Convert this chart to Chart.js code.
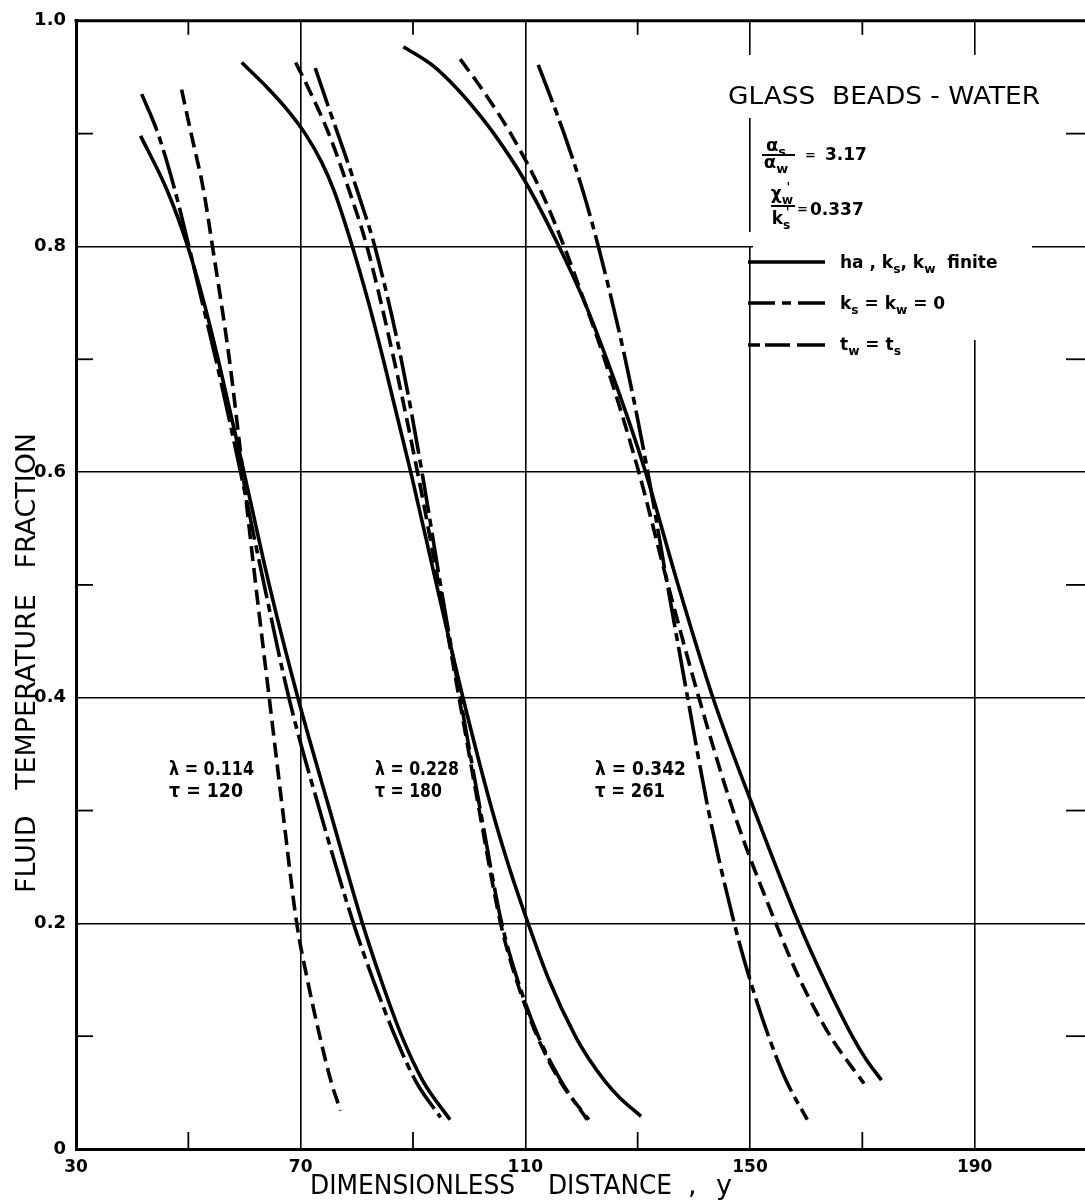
<!DOCTYPE html>
<html><head><meta charset="utf-8">
<script src="https://cdn.jsdelivr.net/npm/chart.js@4.4.1/dist/chart.umd.min.js"></script>
<style>
html,body{margin:0;padding:0;background:#fff;overflow:hidden;width:1085px;height:1203px}
#wrap{position:absolute;left:0;top:0;width:1095px;height:1203px}
</style>
</head><body><div id="wrap"><canvas id="c" width="1095" height="1203"></canvas></div>
<script>
// ---- axis ticks ----
const xMajor = [30, 70, 110, 150, 190];
const xTickLabels = ['30', '70', '110', '150', '190'];
const xAllTicks = [30, 50, 70, 90, 110, 130, 150, 170, 190, 210];
const yMajor = [0, 0.2, 0.4, 0.6, 0.8, 1.0];
const yTickLabels = ['0', '0.2', '0.4', '0.6', '0.8', '1.0'];

// ---- λ = 0.114, τ = 120 ----
const aFiniteX = [41.5, 46.2, 49.9, 52.8, 55.3, 59.9, 64.4, 69.5, 75.2, 81.0, 84.3, 88.0, 91.8, 96.6];
const aFiniteY = [0.898, 0.85, 0.80, 0.75, 0.70, 0.60, 0.50, 0.40, 0.30, 0.20, 0.15, 0.10, 0.06, 0.026];
const aNoCondX = [41.7, 44.6, 47.6, 50.1, 52.5, 54.9, 59.3, 63.5, 67.9, 73.4, 79.4, 82.9, 86.8, 90.5, 94.9];
const aNoCondY = [0.935, 0.90, 0.85, 0.80, 0.75, 0.70, 0.60, 0.50, 0.40, 0.30, 0.20, 0.15, 0.10, 0.06, 0.028];
const aEquilX = [48.8, 50.5, 52.7, 54.3, 57.3, 59.7, 62.0, 64.4, 66.8, 69.3, 71.2, 73.4, 75.4, 77.1];
const aEquilY = [0.939, 0.90, 0.85, 0.80, 0.70, 0.60, 0.50, 0.40, 0.30, 0.20, 0.15, 0.10, 0.06, 0.034];

// ---- λ = 0.228, τ = 180 ----
const bFiniteX = [59.5, 64.2, 67.8, 70.8, 73.7, 75.9, 79.2, 82.1, 84.7, 89.6, 94.2, 98.9, 104.1, 107.1, 110.5, 114.2, 118.9, 121.3, 124.2, 126.9, 130.6];
const bFiniteY = [0.963, 0.94, 0.92, 0.90, 0.875, 0.85, 0.80, 0.75, 0.70, 0.60, 0.50, 0.40, 0.30, 0.25, 0.20, 0.15, 0.10, 0.08, 0.06, 0.045, 0.029];
const bNoCondX = [72.6, 75.2, 78.0, 80.7, 83.2, 87.9, 91.6, 94.9, 98.4, 102.0, 105.8, 108.6, 112.3, 116.4, 121.0];
const bNoCondY = [0.958, 0.92, 0.88, 0.84, 0.80, 0.70, 0.60, 0.50, 0.40, 0.30, 0.20, 0.15, 0.10, 0.06, 0.026];
const bEquilX = [69.1, 71.4, 75.0, 78.6, 81.8, 86.6, 90.8, 94.6, 98.2, 101.8, 105.6, 108.4, 112.1, 116.2, 121.3];
const bEquilY = [0.963, 0.94, 0.90, 0.85, 0.80, 0.70, 0.60, 0.50, 0.40, 0.30, 0.20, 0.15, 0.10, 0.06, 0.026];

// ---- λ = 0.342, τ = 261 ----
const cFiniteX = [88.3, 93.6, 97.8, 101.3, 104.4, 109.7, 116.0, 120.6, 124.5, 128.1, 131.4, 137.2, 143.4, 150.8, 158.7, 163.2, 168.2, 170.6, 173.4];
const cFiniteY = [0.977, 0.96, 0.94, 0.92, 0.90, 0.86, 0.80, 0.75, 0.70, 0.65, 0.60, 0.50, 0.40, 0.30, 0.20, 0.15, 0.10, 0.08, 0.061];
const cNoCondX = [112.3, 116.9, 120.2, 123.0, 127.8, 131.8, 135.3, 138.9, 142.6, 147.2, 150.0, 153.3, 156.5, 160.2];
const cNoCondY = [0.961, 0.90, 0.85, 0.80, 0.70, 0.60, 0.50, 0.40, 0.30, 0.20, 0.15, 0.10, 0.06, 0.026];
const cEquilX = [98.4, 102.2, 107.4, 112.7, 116.9, 120.6, 124.1, 130.2, 135.4, 140.9, 147.0, 154.6, 158.9, 164.3, 170.3];
const cEquilY = [0.966, 0.94, 0.90, 0.85, 0.80, 0.75, 0.70, 0.60, 0.50, 0.40, 0.30, 0.20, 0.15, 0.10, 0.058];

// ---- line styles ----
const DASH_FINITE = [];
const DASH_NOCOND = [40, 6, 8, 6];   // ks = kw = 0
const DASH_EQUIL = [15, 7];          // tw = ts

function series(label, xs, ys, dash) {
  return {
    label, data: xs.map((x, i) => ({x, y: ys[i]})),
    borderColor: '#000', borderWidth: 3.6, borderDash: dash,
    borderCapStyle: 'butt', pointRadius: 0, fill: false,
    cubicInterpolationMode: 'monotone'
  };
}

const datasets = [
  series('ha, ks, kw finite (λ=0.114)', aFiniteX, aFiniteY, DASH_FINITE),
  series('ks = kw = 0 (λ=0.114)', aNoCondX, aNoCondY, DASH_NOCOND),
  series('tw = ts (λ=0.114)', aEquilX, aEquilY, DASH_EQUIL),
  series('ha, ks, kw finite (λ=0.228)', bFiniteX, bFiniteY, DASH_FINITE),
  series('ks = kw = 0 (λ=0.228)', bNoCondX, bNoCondY, DASH_NOCOND),
  series('tw = ts (λ=0.228)', bEquilX, bEquilY, DASH_EQUIL),
  series('ha, ks, kw finite (λ=0.342)', cFiniteX, cFiniteY, DASH_FINITE),
  series('ks = kw = 0 (λ=0.342)', cNoCondX, cNoCondY, DASH_NOCOND),
  series('tw = ts (λ=0.342)', cEquilX, cEquilY, DASH_EQUIL)
];

const FAM = '"DejaVu Sans", sans-serif';

function txt(ctx, s, x, y, o) {
  o = o || {};
  ctx.save();
  ctx.font = (o.weight || 'normal') + ' ' + (o.size || 16) + 'px ' + FAM;
  ctx.fillStyle = '#000';
  ctx.textBaseline = o.baseline || 'alphabetic';
  ctx.textAlign = 'left';
  const w = ctx.measureText(s).width;
  const sx = o.width ? o.width / w : 1;
  const tw = w * sx;
  if (o.rot) {
    ctx.translate(x, y); ctx.rotate(o.rot); ctx.scale(sx, 1);
    ctx.textAlign = 'center'; ctx.fillText(s, 0, 0);
  } else {
    let x0 = x;
    if (o.align === 'center') x0 = x - tw / 2; else if (o.align === 'right') x0 = x - tw;
    ctx.translate(x0, y); ctx.scale(sx, 1); ctx.fillText(s, 0, 0);
  }
  ctx.restore();
  return tw;
}

// rich text: segments [text, kind, supText]
function rich(ctx, segs, x, y, size, weight, measureOnly) {
  ctx.save();
  ctx.fillStyle = '#000'; ctx.textBaseline = 'alphabetic'; ctx.textAlign = 'left';
  let cx = x;
  for (const seg of segs) {
    const t = seg[0], k = seg[1] || '';
    if (k === 'sub') {
      const sz = size * 0.72;
      ctx.font = weight + ' ' + sz + 'px ' + FAM;
      let w = ctx.measureText(t).width;
      if (!measureOnly) ctx.fillText(t, cx, y + size * 0.28);
      if (seg[2]) {
        const w2 = ctx.measureText(seg[2]).width;
        if (!measureOnly) ctx.fillText(seg[2], cx + (w - w2) / 2 + 1, y - size * 0.45);
        w = Math.max(w, w2);
      }
      cx += w;
    } else {
      ctx.font = weight + ' ' + size + 'px ' + FAM;
      if (!measureOnly) ctx.fillText(t, cx, y);
      cx += ctx.measureText(t).width;
    }
  }
  ctx.restore();
  return cx - x;
}
function richCenter(ctx, segs, cx, y, size, weight) {
  const w = rich(ctx, segs, 0, 0, size, weight, true);
  rich(ctx, segs, cx - w / 2, y, size, weight, false);
}

function line(ctx, x1, y1, x2, y2, w, dash) {
  ctx.save();
  ctx.strokeStyle = '#000'; ctx.lineWidth = w; ctx.lineCap = 'butt';
  ctx.setLineDash(dash || []);
  ctx.beginPath(); ctx.moveTo(x1, y1); ctx.lineTo(x2, y2); ctx.stroke();
  ctx.restore();
}

const deco = {
  id: 'deco',
  beforeDatasetsDraw(chart) {
    const {ctx, chartArea: a, scales: {x, y}} = chart;
    // white panel behind the key (interrupts grid lines)
    ctx.save();
    ctx.fillStyle = '#fff';
    ctx.fillRect(733, 55, 299, 63);
    ctx.fillRect(753, 118, 279, 222);
    ctx.fillRect(733, 232, 20, 14);
    ctx.restore();
    // top frame
    line(ctx, a.left - 1.5, a.top, a.right, a.top, 3);
    // inward minor ticks
    for (const v of [50, 90, 130, 170]) {
      const px = x.getPixelForValue(v);
      line(ctx, px, a.bottom, px, a.bottom - 17, 1.8);
      line(ctx, px, a.top, px, a.top + 14, 1.8);
    }
    for (const v of [0.1, 0.3, 0.5, 0.7, 0.9]) {
      const py = y.getPixelForValue(v);
      line(ctx, a.left, py, a.left + 17, py, 1.8);
      line(ctx, a.right, py, a.right - 21, py, 1.8);
    }
  },
  afterDraw(chart) {
    const ctx = chart.ctx;
    // axis titles
    txt(ctx, 'DIMENSIONLESS', 310, 1194, {size: 27, width: 205});
    txt(ctx, 'DISTANCE', 548, 1194, {size: 27, width: 124});
    txt(ctx, ',', 688, 1194, {size: 27});
    txt(ctx, 'y', 716, 1194, {size: 27});
    txt(ctx, 'FLUID   TEMPERATURE   FRACTION', 35, 663, {size: 27, width: 460, rot: -Math.PI / 2});

    // key title
    txt(ctx, 'GLASS  BEADS - WATER', 728, 104, {size: 24, width: 312});
    // alpha ratio
    richCenter(ctx, [['α'], ['s', 'sub']], 776, 151, 18, 'bold');
    line(ctx, 762, 155, 795, 155, 2);
    richCenter(ctx, [['α'], ['w', 'sub']], 776, 168, 18, 'bold');
    txt(ctx, '=', 805, 159, {size: 13, weight: 'bold'});
    txt(ctx, '3.17', 825, 160, {size: 17, weight: 'bold'});
    // lambda'/k' ratio
    richCenter(ctx, [['χ'], ['w', 'sub', "'"]], 782, 199, 17, 'bold');
    line(ctx, 771, 206, 795, 206, 2);
    richCenter(ctx, [['k'], ['s', 'sub', "'"]], 781, 224, 17, 'bold');
    txt(ctx, '=', 797, 213, {size: 13, weight: 'bold'});
    txt(ctx, '0.337', 810, 215, {size: 17, weight: 'bold'});

    // key lines
    line(ctx, 748, 262, 825, 262, 3.6);
    line(ctx, 748, 303, 825, 303, 3.6, [27, 7, 9, 7, 30]);
    line(ctx, 748, 345, 825, 345, 3.6, [12, 5, 25, 7, 30]);
    rich(ctx, [['ha , k'], ['s', 'sub'], [', k'], ['w', 'sub'], ['  finite']], 840, 268, 17, 'bold');
    rich(ctx, [['k'], ['s', 'sub'], [' = k'], ['w', 'sub'], [' = 0']], 840, 309, 17, 'bold');
    rich(ctx, [['t'], ['w', 'sub'], [' = t'], ['s', 'sub']], 840, 350, 17, 'bold');

    // parameter labels
    const lab = [
      ['λ = 0.114', 'τ = 120', 169, 85, 74],
      ['λ = 0.228', 'τ = 180', 375, 84, 67],
      ['λ = 0.342', 'τ = 261', 595, 91, 70]
    ];
    for (const [l, t, x0, w1, w2] of lab) {
      txt(ctx, l, x0, 775, {size: 19, weight: 'bold', width: w1});
      txt(ctx, t, x0, 797, {size: 19, weight: 'bold', width: w2});
    }
  }
};

const near = (v, arr) => arr.findIndex(m => Math.abs(m - v) < 1e-6);

new Chart(document.getElementById('c'), {
  type: 'line',
  data: {datasets},
  options: {
    responsive: false, animation: false, devicePixelRatio: 1,
    layout: {padding: {top: 11, right: 6, left: 0, bottom: 0}},
    plugins: {legend: {display: false}, tooltip: {enabled: false}},
    scales: {
      x: {
        type: 'linear', min: 30, max: 210,
        afterBuildTicks: s => { s.ticks = xAllTicks.map(v => ({value: v})); },
        afterFit: s => { s.height = 54; },
        ticks: {
          autoSkip: false, maxRotation: 0, padding: 8, color: '#000',
          font: {family: FAM, weight: 'bold', size: 17},
          callback: v => { const i = near(v, xMajor); return i >= 0 ? xTickLabels[i] : ''; }
        },
        grid: {
          drawTicks: false, lineWidth: 1.6,
          color: c => (c.tick && [70, 110, 150, 190].includes(c.tick.value)) ? '#000' : 'rgba(0,0,0,0)'
        },
        border: {display: true, color: '#000', width: 3}
      },
      y: {
        type: 'linear', min: 0, max: 1,
        afterBuildTicks: s => { s.ticks = [0,1,2,3,4,5,6,7,8,9,10].map(i => ({value: i / 10})); },
        afterFit: s => { s.width = 76; },
        ticks: {
          autoSkip: false, padding: 10, color: '#000',
          font: {family: FAM, weight: 'bold', size: 18},
          callback: v => { const i = near(v, yMajor); return i >= 0 ? yTickLabels[i] : ''; }
        },
        grid: {
          drawTicks: false, lineWidth: 1.6,
          color: c => (c.tick && near(c.tick.value, [0.2, 0.4, 0.6, 0.8]) >= 0) ? '#000' : 'rgba(0,0,0,0)'
        },
        border: {display: true, color: '#000', width: 3}
      }
    }
  },
  plugins: [deco]
});
</script>
</body></html>
